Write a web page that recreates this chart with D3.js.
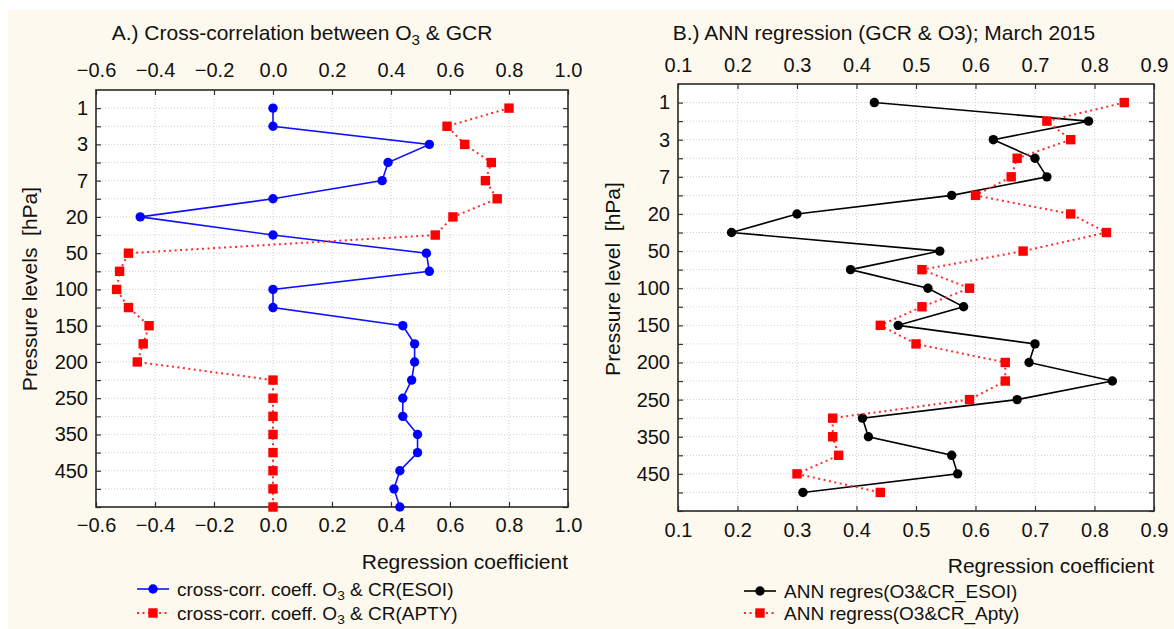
<!DOCTYPE html>
<html>
<head>
<meta charset="utf-8">
<script src="https://cdn.jsdelivr.net/npm/d3@7"></script>
<style>
  body { margin: 0; background: #fff; }
  text { font-family: "Liberation Sans", Arial, sans-serif; fill: #111; white-space: pre; }
</style>
</head>
<body>
<svg id="chart" width="1174" height="629"></svg>
<script>
// Pressure levels (hPa), top of the atmosphere first
const levels = ["1","2","3","5","7","10","20","30","50","70","100","125","150","175","200","225","250","300","350","400","450","500","550"];
const labelledLevels = ["1","3","7","20","50","100","150","200","250","350","450"];

// Panel A: cross-correlation coefficients (23 levels)
const esoiCorr = [0, 0, 0.53, 0.39, 0.37, 0, -0.45, 0, 0.52, 0.53, 0, 0, 0.44, 0.48, 0.48, 0.47, 0.44, 0.44, 0.49, 0.49, 0.43, 0.41, 0.43];
const aptyCorr = [0.80, 0.59, 0.65, 0.74, 0.72, 0.76, 0.61, 0.55, -0.49, -0.52, -0.53, -0.49, -0.42, -0.44, -0.46, 0, 0, 0, 0, 0, 0, 0, 0];

// Panel B: ANN regression coefficients (22 levels)
const esoiAnn = [0.43, 0.79, 0.63, 0.70, 0.72, 0.56, 0.30, 0.19, 0.54, 0.39, 0.52, 0.58, 0.47, 0.70, 0.69, 0.83, 0.67, 0.41, 0.42, 0.56, 0.57, 0.31];
const aptyAnn = [0.85, 0.72, 0.76, 0.67, 0.66, 0.60, 0.76, 0.82, 0.68, 0.51, 0.59, 0.51, 0.44, 0.50, 0.65, 0.65, 0.59, 0.36, 0.36, 0.37, 0.30, 0.44];

const xTicksA = [-0.6, -0.4, -0.2, 0.0, 0.2, 0.4, 0.6, 0.8, 1.0];
const xTicksB = [0.1, 0.2, 0.3, 0.4, 0.5, 0.6, 0.7, 0.8, 0.9];

const legendA = ["cross-corr. coeff. O|3| & CR(ESOI)", "cross-corr. coeff. O|3| & CR(APTY)"];
const legendB = ["ANN regres(O3&CR_ESOI)", "ANN regress(O3&CR_Apty)"];

const svg = d3.select("#chart");
const CREAM = "#fdf9ee";
const TICK_FS = 20;
const Y_MAX = 22; // level index that sits on the bottom frame

svg.append("rect").attr("x", 8).attr("y", 10).attr("width", 1166).attr("height", 619).attr("fill", CREAM);

// Writes text; segments wrapped in |..| become subscripts
function richText(sel, str) {
  str.split("|").forEach((part, i) => {
    if (!part) return;
    if (i % 2 === 1) {
      sel.append("tspan").attr("font-size", "0.72em").attr("dy", "0.3em").text(part);
    } else {
      const t = sel.append("tspan").text(part);
      if (i > 0) t.attr("dy", "-0.22em");
    }
  });
}

function drawPanel(cfg) {
  const g = svg.append("g");
  const x = d3.scaleLinear().domain(cfg.xDomain).range([cfg.left, cfg.right]);
  const n = cfg.nLevels;
  const y = d3.scaleLinear().domain([-1, Y_MAX]).range([cfg.top, cfg.bottom]);
  const idx = d3.range(Y_MAX + 1);

  g.append("rect").attr("x", cfg.left).attr("y", cfg.top)
    .attr("width", cfg.right - cfg.left).attr("height", cfg.bottom - cfg.top).attr("fill", "#fff");

  // dotted grid
  const grid = g.append("g").attr("stroke", "#cfcfcf").attr("stroke-width", 1).attr("stroke-dasharray", "1,2");
  grid.selectAll(".gx").data(cfg.xTicks).join("line")
    .attr("x1", d => x(d)).attr("x2", d => x(d)).attr("y1", cfg.top).attr("y2", cfg.bottom);
  grid.selectAll(".gy").data(idx).join("line")
    .attr("x1", cfg.left).attr("x2", cfg.right).attr("y1", d => y(d)).attr("y2", d => y(d));

  const fmtX = d3.format(cfg.xFormat);
  const levelLabel = i => labelledLevels.includes(levels[i]) ? levels[i] : "";

  const axes = [
    g.append("g").attr("transform", `translate(0,${cfg.top})`)
      .call(d3.axisTop(x).tickValues(cfg.xTicks).tickFormat(fmtX).tickSize(-5).tickPadding(cfg.topPad)),
    g.append("g").attr("transform", `translate(0,${cfg.bottom})`)
      .call(d3.axisBottom(x).tickValues(cfg.xTicks).tickFormat(fmtX).tickSize(-5).tickPadding(cfg.bottomPad)),
    g.append("g").attr("transform", `translate(${cfg.left},0)`)
      .call(d3.axisLeft(y).tickValues(idx).tickFormat(levelLabel).tickSize(-5).tickPadding(cfg.leftPad)),
    g.append("g").attr("transform", `translate(${cfg.right},0)`)
      .call(d3.axisRight(y).tickValues(idx).tickFormat(() => "").tickSize(-5))
  ];
  axes.forEach(a => {
    a.select(".domain").remove();
    a.selectAll(".tick line").attr("stroke", "#333").attr("stroke-width", 1.2);
    a.selectAll(".tick text").attr("font-size", TICK_FS).attr("fill", "#111")
      .attr("font-family", '"Liberation Sans", Arial, sans-serif');
  });

  g.append("rect").attr("x", cfg.left).attr("y", cfg.top)
    .attr("width", cfg.right - cfg.left).attr("height", cfg.bottom - cfg.top)
    .attr("fill", "none").attr("stroke", "#2a2a2a").attr("stroke-width", 1.6);

  // series
  cfg.series.forEach(s => {
    const pts = s.values.map((v, i) => [x(v), y(i)]);
    g.append("path").attr("d", d3.line()(pts)).attr("fill", "none")
      .attr("stroke", s.lineColor).attr("stroke-width", s.dash ? 2 : 1.6)
      .attr("stroke-dasharray", s.dash || null);
    drawMarkers(g, pts, s);
  });

  // titles
  g.append("text").attr("x", cfg.titleX).attr("y", cfg.titleY).attr("text-anchor", "middle")
    .attr("font-size", 21).call(sel => richText(sel, cfg.title));
  g.append("text").attr("transform", `translate(${cfg.yTitleX},${cfg.yTitleY}) rotate(-90)`)
    .attr("text-anchor", "middle").attr("dy", "0.35em").attr("font-size", 21).text(cfg.yTitle);
  g.append("text").attr("x", cfg.right).attr("y", cfg.xTitleY).attr("text-anchor", "end")
    .attr("dy", "0.35em").attr("font-size", 21).text("Regression coefficient");

  // legend
  cfg.series.forEach((s, i) => {
    const ly = cfg.legendY[i];
    const lg = g.append("g");
    lg.append("line").attr("x1", cfg.legendX).attr("x2", cfg.legendX + 32).attr("y1", ly).attr("y2", ly)
      .attr("stroke", s.lineColor).attr("stroke-width", s.dash ? 2 : 1.6).attr("stroke-dasharray", s.dash || null);
    drawMarkers(lg, [[cfg.legendX + 16, ly]], s);
    lg.append("text").attr("x", cfg.legendX + 40).attr("y", ly).attr("dy", "0.35em")
      .attr("font-size", 19).call(sel => richText(sel, s.label));
  });
}

function drawMarkers(g, pts, s) {
  if (s.marker === "circle") {
    g.selectAll(null).data(pts).join("circle")
      .attr("cx", d => d[0]).attr("cy", d => d[1]).attr("r", 4.7).attr("fill", s.color);
  } else {
    g.selectAll(null).data(pts).join("rect")
      .attr("x", d => d[0] - 4.7).attr("y", d => d[1] - 4.7).attr("width", 9.4).attr("height", 9.4).attr("fill", s.color);
  }
}

drawPanel({
  left: 96, right: 568, top: 90, bottom: 507, nLevels: 23,
  xDomain: [-0.6, 1.0], xTicks: xTicksA, xFormat: ".1f",
  topPad: 13, bottomPad: 11, leftPad: 8,
  title: "A.) Cross-correlation between O|3| & GCR", titleX: 302, titleY: 40,
  yTitle: "Pressure levels  [hPa]", yTitleX: 30, yTitleY: 289, xTitleY: 562,
  legendX: 137, legendY: [589, 613],
  series: [
    { values: esoiCorr, color: "#0000ff", lineColor: "#1010ff", marker: "circle", label: legendA[0] },
    { values: aptyCorr, color: "#ff0000", lineColor: "#ff2a2a", marker: "square", dash: "2,3.5", label: legendA[1] }
  ]
});

drawPanel({
  left: 678, right: 1154, top: 84, bottom: 511, nLevels: 22,
  xDomain: [0.1, 0.9], xTicks: xTicksB, xFormat: ".1f",
  topPad: 12, bottomPad: 12, leftPad: 8,
  title: "B.) ANN regression (GCR & O3); March 2015", titleX: 884, titleY: 40,
  yTitle: "Pressure level  [hPa]", yTitleX: 613, yTitleY: 279, xTitleY: 566,
  legendX: 744, legendY: [591, 613],
  series: [
    { values: esoiAnn, color: "#000", lineColor: "#000", marker: "circle", label: legendB[0] },
    { values: aptyAnn, color: "#ff0000", lineColor: "#ff2a2a", marker: "square", dash: "2,3.5", label: legendB[1] }
  ]
});
</script>
</body>
</html>
